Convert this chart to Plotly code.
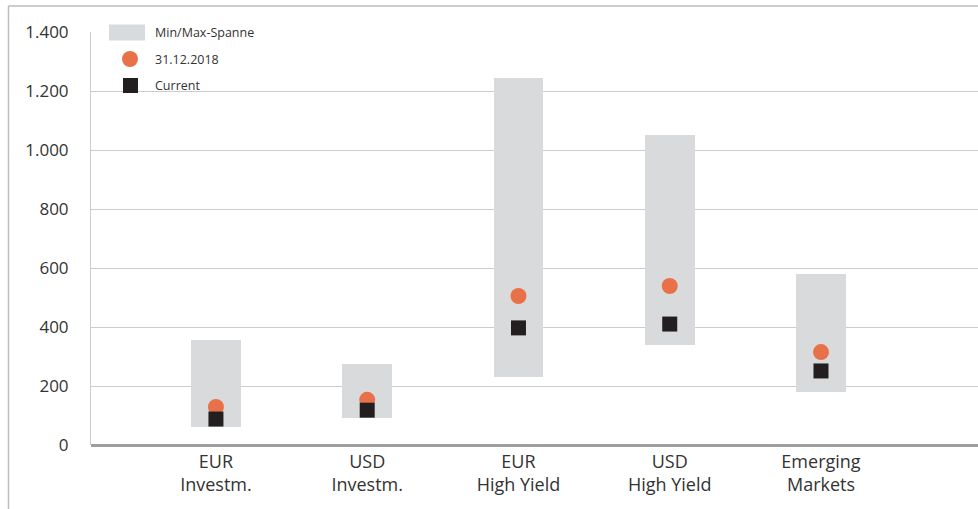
import plotly.graph_objects as go

categories = ["EUR<br>Investm.", "USD<br>Investm.", "EUR<br>High Yield", "USD<br>High Yield", "Emerging<br>Markets"]
range_min = [62, 90, 232, 338, 178]
range_max = [355, 276, 1245, 1050, 578]
value_2018 = [129, 153, 505, 539, 315]
value_current = [88, 118, 397, 410, 251]
legend_labels = ["Min/Max-Spanne", "31.12.2018", "Current"]
y_tickvals = [0, 200, 400, 600, 800, 1000, 1200, 1400]

W, H = 978, 509
L, R, T, B = 91, 0, 32, 64
PW, PH = W - L - R, H - T - B

def px(x):
    return (x - L) / PW

def py(y):
    return (H - B - y) / PH

xpos = list(range(len(categories)))
GREY = "#D9DADB"
ORANGE = "#E9714A"
BLACK = "#231F20"
TXT = "#333333"

fig = go.Figure()
fig.add_trace(go.Bar(
    x=xpos, y=[mx - mn for mn, mx in zip(range_min, range_max)], base=range_min,
    width=0.33, marker=dict(color=GREY, line=dict(width=0)),
    name=legend_labels[0], showlegend=False))
fig.add_trace(go.Scatter(
    x=xpos, y=value_2018, mode="markers",
    marker=dict(symbol="circle", size=16, color=ORANGE, line=dict(width=0)),
    name=legend_labels[1], showlegend=False))
fig.add_trace(go.Scatter(
    x=xpos, y=value_current, mode="markers",
    marker=dict(symbol="square", size=15, color=BLACK, line=dict(width=0)),
    name=legend_labels[2], showlegend=False))

shapes = []
# outer frame (top and left)
shapes.append(dict(type="line", xref="paper", yref="paper", x0=px(8.5), x1=px(W + 5),
                   y0=py(6), y1=py(6), line=dict(color="#BDBDBD", width=1.5), layer="above"))
shapes.append(dict(type="line", xref="paper", yref="paper", x0=px(8.5), x1=px(8.5),
                   y0=py(6), y1=py(H + 5), line=dict(color="#BDBDBD", width=1.5), layer="above"))
# legend background covering gridline
shapes.append(dict(type="rect", xref="paper", yref="paper", x0=px(92), x1=px(274),
                   y0=py(20), y1=py(46), fillcolor="white", line=dict(width=0), layer="above"))
# legend symbols
shapes.append(dict(type="rect", xref="paper", yref="paper", x0=px(109), x1=px(145),
                   y0=py(24.5), y1=py(40.5), fillcolor=GREY, line=dict(width=0), layer="above"))
shapes.append(dict(type="circle", xref="paper", yref="paper", x0=px(122), x1=px(138),
                   y0=py(51), y1=py(67), fillcolor=ORANGE, line=dict(width=0), layer="above"))
shapes.append(dict(type="rect", xref="paper", yref="paper", x0=px(123), x1=px(138),
                   y0=py(78), y1=py(93), fillcolor=BLACK, line=dict(width=0), layer="above"))

annotations = []
for lbl, yc in zip(legend_labels, [32, 59, 85]):
    annotations.append(dict(text=lbl, xref="paper", yref="paper", x=px(153), y=py(yc),
                            xanchor="left", yanchor="middle", showarrow=False,
                            font=dict(size=12.5, color=TXT)))

fig.update_layout(
    width=W, height=H,
    margin=dict(l=L, r=R, t=T, b=B, pad=0),
    paper_bgcolor="white", plot_bgcolor="white",
    separators=",.",
    font=dict(family="Open Sans", color=TXT),
    showlegend=False,
    bargap=0,
    shapes=shapes, annotations=annotations,
    xaxis=dict(range=[-0.826, 5.038], tickvals=xpos, ticktext=categories,
               showgrid=False, zeroline=False, showline=False,
               ticks="", tickfont=dict(size=18, color=TXT), ticklabelstandoff=4,
               fixedrange=True),
    yaxis=dict(range=[0, 1400], tickvals=y_tickvals, tickformat=",d",
               showgrid=True, gridcolor="#CCCCCC", gridwidth=1,
               zeroline=True, zerolinecolor="#9E9E9E", zerolinewidth=2.5,
               showline=True, linecolor="#CCCCCC", linewidth=1,
               ticks="", tickfont=dict(size=17, color=TXT), ticklabelstandoff=18,
               fixedrange=True),
)

fig.write_html("out.html", config={"displayModeBar": False},
               post_script="document.body.style.margin='0';document.body.style.overflow='hidden';")
